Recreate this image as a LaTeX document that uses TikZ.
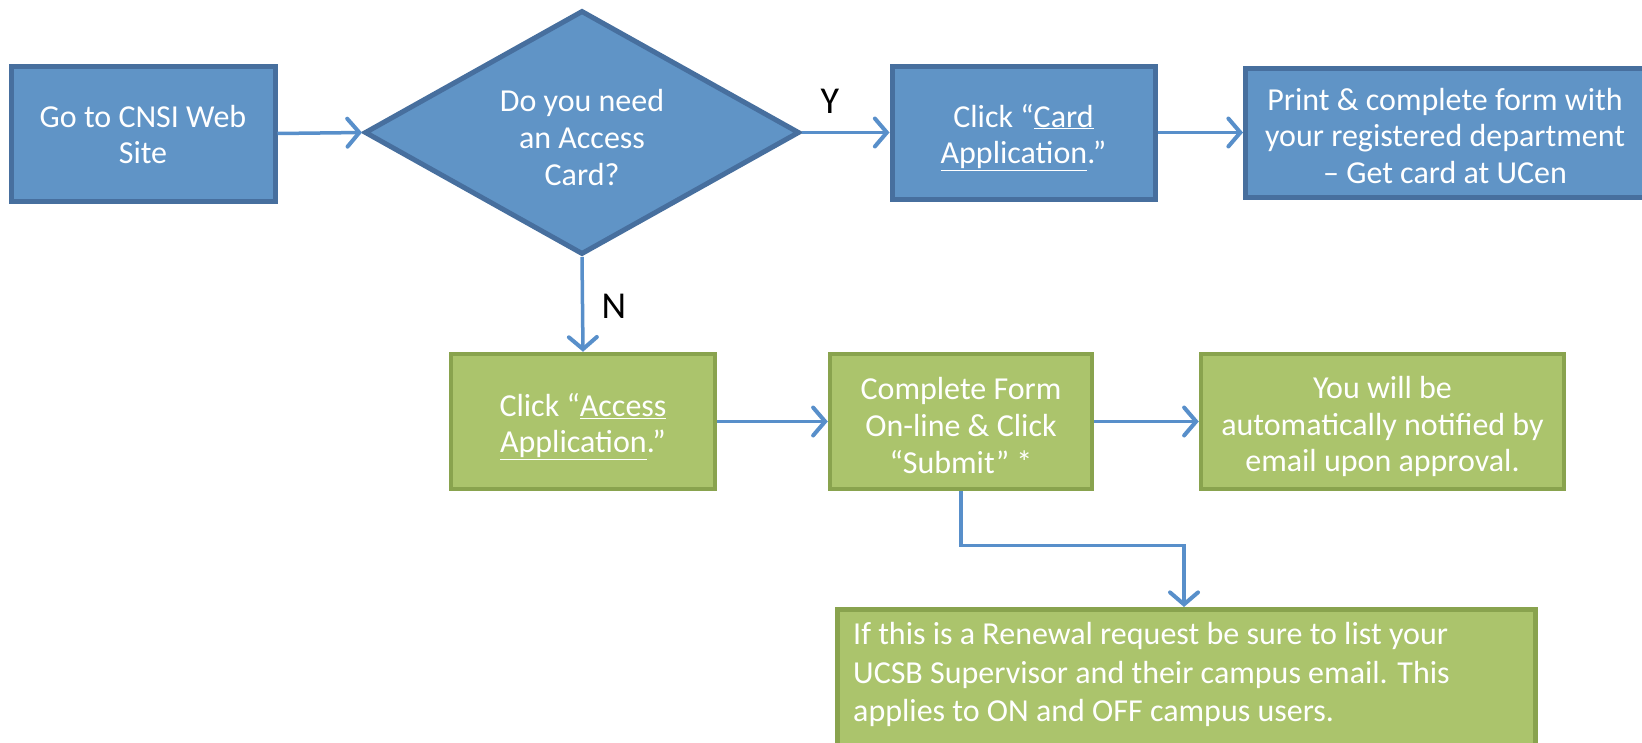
\documentclass[tikz,border=0pt]{standalone}
\usepackage{fontspec}
\setmainfont{Carlito}
\usetikzlibrary{arrows.meta,shapes.geometric}
\definecolor{bfill}{RGB}{96,148,198}
\definecolor{bdraw}{RGB}{71,111,158}
\definecolor{gfill}{RGB}{171,196,108}
\definecolor{gdraw}{RGB}{137,163,78}
\definecolor{arr}{RGB}{88,143,202}
\tikzset{
  bluebox/.style={draw=bdraw,fill=bfill,line width=5pt,inner sep=0pt},
  greenbox/.style={draw=gdraw,fill=gfill,line width=4.5pt,inner sep=0pt},
  txt/.style={text=white,align=center,inner sep=0pt,font=\fontsize{32}{36.8}\selectfont},
  conn/.style={draw=arr,line width=3.5pt,-{Straight Barb[length=12pt,width=28pt,line width=4pt,line cap=round]}},
  lab/.style={font=\fontsize{38}{40}\selectfont,text=black,inner sep=0pt}
}
\begin{document}
\begin{tikzpicture}[x=1pt,y=1pt]
\useasboundingbox (0,0) rectangle (1642,-742);
\begin{scope}
\clip (0,0) rectangle (1642,-742);
\node[bluebox,minimum width=264pt,minimum height=135pt] (web) at (143,-133.5) {};
\node[txt] (webT) at ([yshift=-1pt]web.center) {Go to CNSI Web\\Site};
\node[diamond,draw=bdraw,fill=bfill,line width=5pt,minimum width=435pt,minimum height=244pt,inner sep=0pt] (q) at (582,-132.5) {};
\node[txt] (qT) at ([yshift=-5pt]q.center) {Do you need\\an Access\\Card?};
\node[bluebox,minimum width=263pt,minimum height=133pt] (card) at (1023.5,-132.5) {};
\node[txt] (cardT) at ([yshift=-5pt]card.center) {Click “\underline{Card}\\\underline{Application}.”};
\node[bluebox,minimum width=420pt,minimum height=129pt,anchor=west] (print) at (1243,-132.5) {};
\node[txt] (printT) at (1445,-136) {Print \& complete form with\\your registered department\\– Get card at UCen};
\node[greenbox,minimum width=264pt,minimum height=135pt] (acc) at (583,-421.5) {};
\node[txt] (accT) at ([yshift=-5pt]acc.center) {Click “\underline{Access}\\\underline{Application}.”};
\node[greenbox,minimum width=262pt,minimum height=135pt] (form) at (961,-421.5) {};
\node[txt] (formT) at ([yshift=-4pt]form.center) {Complete Form\\On-line \& Click\\“Submit” *};
\node[greenbox,minimum width=363pt,minimum height=135pt] (note) at (1382.5,-421.5) {};
\node[txt] (noteT) at ([yshift=-5pt]note.center) {You will be\\automatically notified by\\email upon approval.};
\node[greenbox,minimum width=698pt,minimum height=160pt,anchor=north west] (renew) at (835,-607) {};
\node[txt,align=left,anchor=north west,font=\fontsize{32}{38.7}\selectfont] (renewT) at (853,-622) {If this is a Renewal request be sure to list your\\UCSB Supervisor and their campus email. This\\applies to ON and OFF campus users.};
\draw[conn] (web.east) -- (q.west);
\draw[conn] (q.east) -- (card.west);
\draw[conn] (card.east) -- (print.west);
\draw[conn] (q.south) -- (acc.north);
\draw[conn] (acc.east) -- (form.west);
\draw[conn] (form.east) -- (note.west);
\draw[conn] (form.south) |- (1184,-545.5) -- (renew.north west -| 1184,0);
\node[lab] (ylab) at (830,-101) {Y};
\node[lab] (nlab) at (614,-306) {N};
\end{scope}
\end{tikzpicture}
\end{document}
